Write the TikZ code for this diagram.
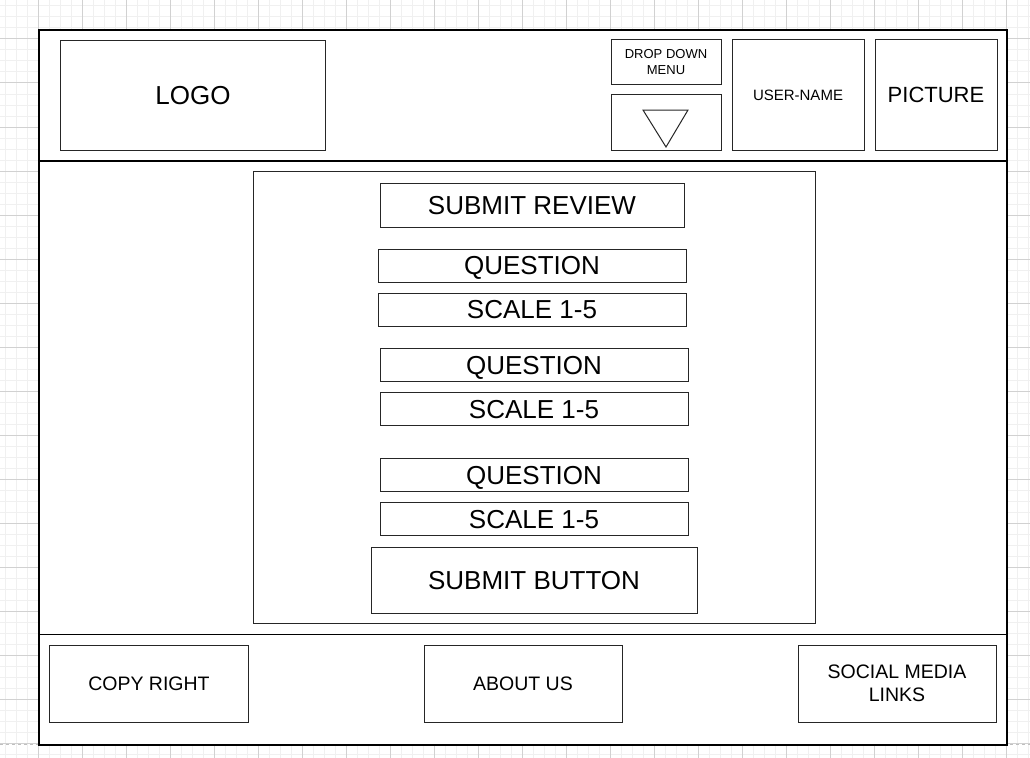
\documentclass[tikz,border=0pt]{standalone}
\usepackage{fontspec}
\setmainfont{Liberation Sans}
\usetikzlibrary{positioning}

\tikzset{
  gridminor/.style={draw=black!6, line width=1bp},
  gridmajor/.style={draw=black!18, line width=1bp},
  frame/.style={draw=black, fill=white, line width=1.3bp, inner sep=0pt},
  box/.style={draw=black!85, fill=white, line width=1bp, inner sep=0pt, align=center, text depth=0pt},
  wh/.style 2 args={minimum width=#1bp, minimum height=#2bp},
  huge/.style={font=\fontsize{26bp}{30bp}\selectfont},
  large/.style={font=\fontsize{22bp}{26bp}\selectfont},
  mid/.style={font=\fontsize{19.5bp}{23bp}\selectfont},
  small/.style={font=\fontsize{15bp}{18bp}\selectfont},
  tiny/.style={font=\fontsize{13bp}{16bp}\selectfont}
}

\begin{document}
\begin{tikzpicture}[x=1bp, y=-1bp]
  \useasboundingbox (0,0) rectangle (1030,758);

  % background grid
  \foreach \gx in {5,16,...,1030} \draw[gridminor] (\gx,0) -- (\gx,758);
  \foreach \gy in {6,17,...,758} \draw[gridminor] (0,\gy) -- (1030,\gy);
  \foreach \gx in {38,82,...,1030} \draw[gridmajor] (\gx,0) -- (\gx,758);
  \foreach \gy in {39,83,...,758} \draw[gridmajor] (0,\gy) -- (1030,\gy);
  \draw[black!25, dashed, line width=1bp] (0,744) -- (1030,744);

  % page sections
  \node[frame, wh={968}{131}] (header) at (523,95.5) {};
  \node[frame, wh={968}{473.5}] (body) at (523,397.75) {};
  \node[frame, wh={968}{110.5}] (footer) at (523,689.75) {};

  % header
  \node[box, huge, wh={264}{110}] (logo) at (193,95.5) {LOGO};
  \node[box, tiny, wh={110}{44}] (dropdown) at (666,62) {DROP DOWN\\MENU};
  \node[box, wh={110}{55}] (arrowbox) at (666,122.5) {};
  \draw[line width=1bp, black!85] (643,110) -- (688,110) -- (666,147) -- cycle;
  \node[box, small, wh={132}{110}] (username) at (798,95) {USER-NAME};
  \node[box, large, wh={122}{110}] (picture) at (936,95) {PICTURE};

  % review form
  \node[box, wh={561.5}{451.3}] (panel) at (534.25,397.6) {};
  \node[box, huge, wh={304}{44}] (title) at (532,205.5) {SUBMIT REVIEW};
  \node[box, huge, wh={308}{33}] (q1) at (532,265.8) {QUESTION};
  \node[box, huge, wh={308}{33}] (s1) at (532,309.8) {SCALE 1-5};
  \node[box, huge, wh={308}{33}] (q2) at (534,365) {QUESTION};
  \node[box, huge, wh={308}{33}] (s2) at (534,409) {SCALE 1-5};
  \node[box, huge, wh={308}{33}] (q3) at (534,475) {QUESTION};
  \node[box, huge, wh={308}{33}] (s3) at (534,519) {SCALE 1-5};
  \node[box, huge, wh={326}{66}] (submit) at (534,580) {SUBMIT BUTTON};

  % footer
  \node[box, mid, wh={198}{77}] (copyright) at (149,683.5) {COPY RIGHT};
  \node[box, mid, wh={198}{77}] (aboutus) at (523,683.5) {ABOUT US};
  \node[box, mid, wh={198}{77}] (social) at (897,683.5) {SOCIAL MEDIA\\LINKS};
\end{tikzpicture}
\end{document}
